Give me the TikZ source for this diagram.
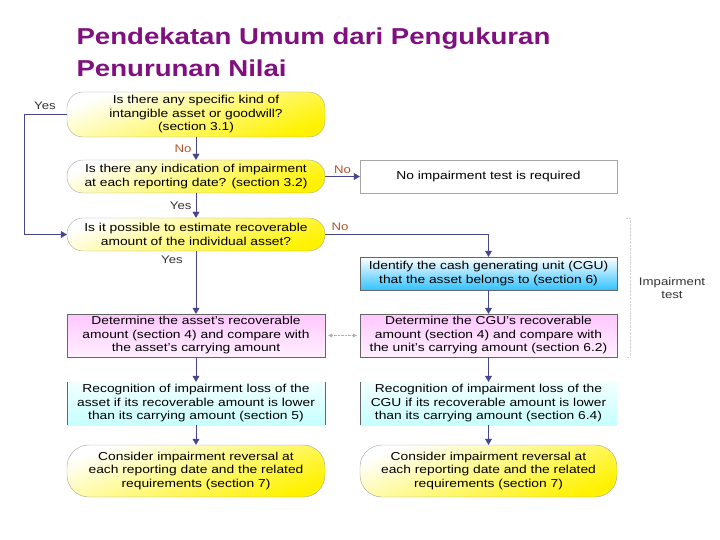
\documentclass[tikz,border=0pt]{standalone}
\usepackage{fontspec}
\setmainfont{Liberation Sans}[FakeStretch=1.2]
\usetikzlibrary{arrows.meta}
\definecolor{ttl}{RGB}{128,16,128}
\definecolor{navy}{RGB}{45,45,150}
\definecolor{lbl}{RGB}{175,85,45}
\tikzset{
  base/.style={font=\fontsize{11.5}{13.5}\selectfont, align=center, inner sep=2pt},
  stadium/.style={base, draw=gray!70, rounded corners=16pt, top color=white, bottom color=yellow!90!orange, shading angle=20},
  plainbox/.style={base, draw=gray!70},
  pinkbox/.style={base, draw=gray!80!black, top color=magenta!22, bottom color=magenta!6},
  bluebox/.style={base, draw=gray!80!black, top color=white, bottom color=cyan!70!blue!80},
  cyanbox/.style={base, top color=cyan!5, bottom color=cyan!22},
  arr/.style={navy!70!gray, -{Triangle[width=7pt,length=6pt]}},
  lab/.style={font=\fontsize{11}{13}\selectfont, lbl},
  ylab/.style={font=\fontsize{11}{13}\selectfont, black!80}
}
\begin{document}
\begin{tikzpicture}[x=1pt,y=-1pt]
\useasboundingbox (0,0) rectangle (720,540);
\node[anchor=west, ttl, font=\bfseries\fontsize{23}{32}\selectfont, align=left] (title) at (73,52.5) {Pendekatan Umum dari Pengukuran\\Penurunan Nilai};

\node[stadium, minimum width=258pt, minimum height=45pt] (q1) at (196,114.5) {Is there any specific kind of\\intangible asset or goodwill?\\(section 3.1)};
\node[stadium, minimum width=258pt, minimum height=33pt] (q2) at (196,176.5) {Is there any indication of impairment\\at each reporting date? (section 3.2)};
\node[stadium, minimum width=258pt, minimum height=33pt] (q3) at (196,234.5) {Is it possible to estimate recoverable\\amount of the individual asset?};
\node[plainbox, minimum width=257pt, minimum height=33pt] (noimp) at (488.5,176.5) {No impairment test is required};
\node[bluebox, minimum width=257pt, minimum height=33pt] (cgu) at (488.5,273.5) {Identify the cash generating unit (CGU)\\that the asset belongs to (section 6)};
\node[pinkbox, minimum width=258pt, minimum height=43pt] (detA) at (196,335.5) {Determine the asset's recoverable\\amount (section 4) and compare with\\the asset's carrying amount};
\node[pinkbox, minimum width=257pt, minimum height=43pt] (detC) at (488.5,335.5) {Determine the CGU's recoverable\\amount (section 4) and compare with\\the unit's carrying amount (section 6.2)};
\node[cyanbox, minimum width=258pt, minimum height=43pt] (recA) at (196,403.5) {Recognition of impairment loss of the\\asset if its recoverable amount is lower\\than its carrying amount (section 5)};
\node[cyanbox, minimum width=257pt, minimum height=43pt] (recC) at (488.5,403.5) {Recognition of impairment loss of the\\CGU if its recoverable amount is lower\\than its carrying amount (section 6.4)};
\draw[gray!80!black] (recA.north west) -- (recA.south west) (recA.north east) -- (recA.south east);
\draw[gray!80!black] (recC.north west) -- (recC.south west);
\node[stadium, minimum width=258pt, minimum height=52pt, rounded corners=22pt] (conA) at (196,471) {Consider impairment reversal at\\each reporting date and the related\\requirements (section 7)};
\node[stadium, minimum width=257pt, minimum height=52pt, rounded corners=22pt] (conC) at (488.5,471) {Consider impairment reversal at\\each reporting date and the related\\requirements (section 7)};

\draw[arr] (q1) -- (q2) node[lab, midway, left=1pt] (no1) {No};
\draw[arr] (q2) -- (q3) node[ylab, midway, left=1pt] (yes1) {Yes};
\draw[arr] (q3) -- (detA);
\node[ylab] (yes2) at (172,260) {Yes};
\draw[arr] (detA) -- (recA);
\draw[arr] (recA) -- (conA);
\draw[arr] (q2) -- (noimp) node[lab, midway, above=-1pt] (no2) {No};
\draw[arr] (q3.east) -| (cgu.north);
\node[lab] (no3) at (340,227) {No};
\draw[arr] (cgu) -- (detC);
\draw[arr] (detC) -- (recC);
\draw[arr] (recC) -- (conC);
\draw[arr] (q1.west) -- ++(-43,0) |- (q3.west);
\node[ylab] (yes0) at (45,106) {Yes};
\draw[gray!60, densely dotted, {Triangle[width=4pt,length=4pt]}-{Triangle[width=4pt,length=4pt]}] ([xshift=3pt]detA.east) -- ([xshift=-3pt]detC.west);
\coordinate (bt) at (630,218);
\coordinate (bb) at (630,357);
\draw[gray!35, densely dotted] ([xshift=-4pt]bt) -- (bt) -- (bb) -- ([xshift=-4pt]bb);
\node[font=\fontsize{11}{13}\selectfont, align=center, black!80] (imp) at (672,288) {Impairment\\test};
\end{tikzpicture}
\end{document}
